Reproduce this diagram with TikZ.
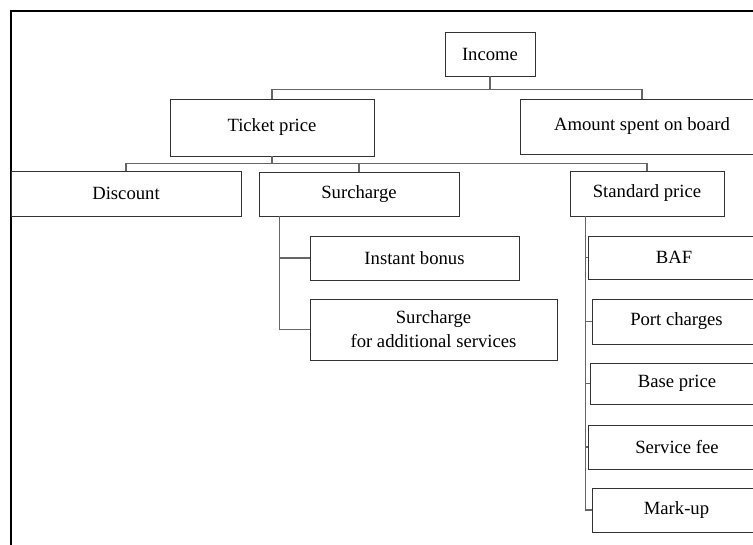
\documentclass[tikz,border=0pt]{standalone}
\usepackage{fontspec}
\setmainfont{Liberation Serif}
\begin{document}
\begin{tikzpicture}[x=0.75pt,y=-0.75pt,
  box/.style={draw=black!80, line width=0.65pt, rectangle, inner sep=0pt, align=center,
    font=\fontsize{14}{18}\selectfont},
  conn/.style={draw=black!60, line width=0.8pt},
  frame/.style={draw=black, line width=0.9pt}]
\useasboundingbox (0,0) rectangle (753,545);
\clip (0,0) rectangle (753,545);
\fill[white] (0,0) rectangle (753,545);

% outer frame (left and top edges)
\draw[frame] (11,545) -- (11,11) -- (753,11);

% top levels
\node[box, minimum width=67.5pt, minimum height=33pt] (inc) at (490,54) {Income};
\node[box, minimum width=153pt, minimum height=42.75pt] (tp) at (272,127.5) {Ticket price};
\node[box, minimum width=183pt, minimum height=41.25pt] (amt) at (642,126.5) {Amount spent on board};

% ticket price components
\node[box, minimum width=172.5pt, minimum height=33.75pt] (dis) at (126,193.5) {Discount};
\node[box, minimum width=150pt, minimum height=33pt] (sur) at (359,194) {Surcharge};
\node[box, minimum width=115.5pt, minimum height=33.75pt] (std) at (647,193.5) {Standard price};

% surcharge components
\node[box, minimum width=156.75pt, minimum height=33pt] (ib) at (414.5,258) {Instant bonus};
\node[box, minimum width=185.25pt, minimum height=45.75pt] (sa) at (433.5,329.5) {Surcharge\\for additional services};

% standard price components
\node[box, minimum width=129pt, minimum height=32.25pt] (baf) at (674,257.5) {BAF};
\node[box, minimum width=126.75pt, minimum height=33.75pt] (port) at (676.5,321.5) {Port charges};
\node[box, minimum width=130.5pt, minimum height=30.75pt] (base) at (677,383.5) {Base price};
\node[box, minimum width=133.5pt, minimum height=33pt] (fee) at (677,447) {Service fee};
\node[box, minimum width=126.75pt, minimum height=33pt] (mark) at (676.5,510) {Mark-up};

% connectors: income
\draw[conn] (inc.south) -- ++(0,13) coordinate (j1);
\draw[conn] (j1) -| (tp.north);
\draw[conn] (j1) -| (amt.north);

% connectors: ticket price
\draw[conn] (tp.south) -- ++(0,7) coordinate (j2);
\draw[conn] (j2) -| (dis.north);
\draw[conn] (j2) -| (sur.north);
\draw[conn] (j2) -| (std.north);

% connectors: surcharge
\coordinate (s0) at ([xshift=15.75pt]sur.south west);
\draw[conn] (s0) |- (ib.west);
\draw[conn] (s0) |- (sa.west);

% connectors: standard price
\coordinate (p0) at ([xshift=12pt]std.south west);
\draw[conn] (p0) |- (baf.west);
\draw[conn] (p0) |- (port.west);
\draw[conn] (p0) |- (base.west);
\draw[conn] (p0) |- (fee.west);
\draw[conn] (p0) |- (mark.west);
\end{tikzpicture}
\end{document}
